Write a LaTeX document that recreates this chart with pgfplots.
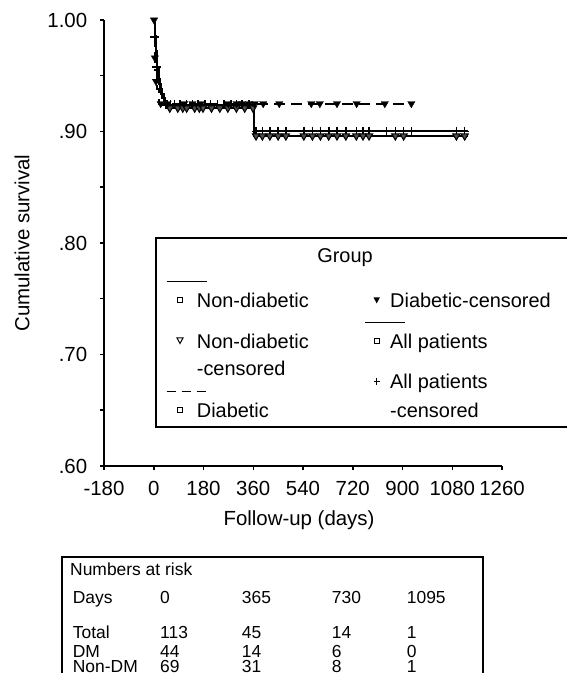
\documentclass[border=0pt]{standalone}
\usepackage{pgfplots}
\pgfplotsset{compat=1.18}
\usepackage{fontspec}
\setmainfont{Liberation Sans}

\begin{document}
\fontsize{20}{24}\selectfont
\begin{tikzpicture}[x=1bp,y=1bp]
\useasboundingbox (0,0) rectangle (567,673);
\begin{axis}[
    at={(104bp,207bp)}, anchor=south west,
    scale only axis, width=398bp, height=446bp,
    xmin=-180, xmax=1260, ymin=0.6, ymax=1.0,
    axis x line*=bottom, axis y line*=left,
    axis line style={line width=1.5bp},
    xtick={-180,0,...,1260},
    ytick={0.6,0.7,0.8,0.9,1.0},
    yticklabels={.60,.70,.80,.90,1.00},
    minor ytick={0.65,0.75,0.85,0.95},
    tick align=outside,
    major tick length=4bp, minor tick length=4bp,
    tick style={black, line width=1.5bp},
    /pgf/number format/assume math mode=true,
    /pgf/number format/1000 sep={},
    ticklabel style={font=\fontsize{20.5}{24}\selectfont},
    xticklabel style={yshift=-4bp},
    yticklabel style={xshift=-6bp},
    xlabel={Follow-up (days)},
    ylabel={Cumulative survival},
    label style={font=\fontsize{20.5}{24}\selectfont},
    xlabel style={at={(axis description cs:0.49,-0.121)}, anchor=center},
    ylabel style={at={(axis description cs:-0.206,0.5)}, anchor=center},
    clip=false,
]
% all patients
\addplot[const plot, black, line width=2bp] coordinates {
    (0,1.000) (3,0.982) (7,0.965) (11,0.956) (16,0.947) (22,0.938)
    (30,0.930) (42,0.924) (362,0.900) (1136,0.900)
};
% non-diabetic
\addplot[const plot, black, line width=2bp] coordinates {
    (0,1.000) (4,0.986) (8,0.972) (13,0.957) (19,0.943) (27,0.934)
    (37,0.927) (48,0.921) (362,0.896) (1136,0.896)
};
% diabetic
\addplot[const plot, black, line width=2bp, dash pattern=on 11bp off 6bp] coordinates {
    (0,1.000) (3,0.977) (6,0.955) (12,0.938) (20,0.925) (932,0.925)
};
% all patients - censored
\addplot[only marks, mark=+, mark size=4.5bp, mark options={line width=1.6bp}] coordinates {
    (2,0.985) (10,0.958)
    (45,0.924) (60,0.924) (75,0.924) (95,0.924) (118,0.924) (140,0.924)
    (160,0.924) (185,0.924) (205,0.924) (230,0.924) (255,0.924) (280,0.924)
    (300,0.924) (320,0.924) (345,0.924)
    (370,0.900) (393,0.900) (420,0.900) (450,0.900) (478,0.900) (543,0.900)
    (574,0.900) (603,0.900) (633,0.900) (663,0.900) (695,0.900) (733,0.900)
    (757,0.900) (779,0.900) (842,0.900) (874,0.900) (904,0.900) (932,0.900)
    (1095,0.900) (1125,0.900)
};
% non-diabetic - censored
\addplot[only marks, mark=triangle*, mark size=4.2bp,
    mark options={rotate=180, fill=black!70, draw=black, line width=1bp}] coordinates {
    (58,0.921) (87,0.921) (105,0.921) (119,0.921) (148,0.921) (165,0.921)
    (178,0.921) (209,0.921) (239,0.921) (268,0.921) (299,0.921) (329,0.921)
    (359,0.921)
    (370,0.896) (393,0.896) (420,0.896) (450,0.896) (478,0.896) (543,0.896)
    (574,0.896) (603,0.896) (633,0.896) (663,0.896) (695,0.896) (733,0.896)
    (757,0.896) (779,0.896) (874,0.896) (904,0.896) (1095,0.896) (1125,0.896)
};
% diabetic - censored
\addplot[only marks, mark=triangle*, mark size=4.2bp,
    mark options={rotate=180, fill=black, draw=black}] coordinates {
    (1,1.000) (4,0.966) (8,0.945) (25,0.925) (50,0.925) (110,0.925)
    (140,0.925) (170,0.925) (270,0.925) (300,0.925) (320,0.925)
    (345,0.925) (365,0.925) (396,0.925) (454,0.925) (570,0.925)
    (601,0.925) (663,0.925) (734,0.925) (836,0.925) (932,0.925)
};
\end{axis}

% legend box
\draw[line width=1.2bp] (156,246) rectangle (600,435);
\node[anchor=base] at (345,410.8) {Group};
\draw[line width=1.5bp] (166.7,391.3) -- (206.7,391.3);
\draw[line width=1.5bp, dash pattern=on 9bp off 6bp] (166.7,281.3) -- (206.7,281.3);
\draw[line width=1.5bp] (365,350.3) -- (405,350.3);
% legend symbols
\draw[line width=1bp] (177.5,370) rectangle (182.5,375);
\draw[line width=1bp] (177.5,260.5) rectangle (182.5,265.5);
\draw[line width=1bp] (374.2,329.5) rectangle (379.2,334.5);
\draw[line width=1bp] (177,335) -- (183,335) -- (180,329.5) -- cycle;
\fill (373.5,375.5) -- (379.9,375.5) -- (376.7,369.6) -- cycle;
\draw[line width=1.2bp] (373.5,291.3) -- (379.9,291.3) (376.7,288.1) -- (376.7,294.5);
% legend texts
\node[anchor=base west, inner sep=0] at (196.7,365.1) {Non-diabetic};
\node[anchor=base west, inner sep=0] at (196.7,324.8) {Non-diabetic};
\node[anchor=base west, inner sep=0] at (196.7,297.5) {-censored};
\node[anchor=base west, inner sep=0] at (196.7,255.8) {Diabetic};
\node[anchor=base west, inner sep=0] at (390,365.1) {Diabetic-censored};
\node[anchor=base west, inner sep=0] at (390,324.8) {All patients};
\node[anchor=base west, inner sep=0] at (390,284.1) {All patients};
\node[anchor=base west, inner sep=0] at (390,255.8) {-censored};

% numbers at risk table
\draw[line width=1.2bp] (62,-10) -- (62,116) -- (483,116) -- (483,-10);
\begin{scope}[every node/.style={anchor=base west, inner sep=0, font=\fontsize{17.5}{20}\selectfont}]
\node at (70,97.5) {Numbers at risk};
\node at (72.7,69.8) {Days};
\node at (160,69.8) {0};
\node at (241.7,69.8) {365};
\node at (331.7,69.8) {730};
\node at (406.7,69.8) {1095};
\node at (72.7,34) {Total};
\node at (160,34) {113};
\node at (241.7,34) {45};
\node at (331.7,34) {14};
\node at (406.7,34) {1};
\node at (72.7,15.8) {DM};
\node at (160,15.8) {44};
\node at (241.7,15.8) {14};
\node at (331.7,15.8) {6};
\node at (406.7,15.8) {0};
\node at (72.7,0.3) {Non-DM};
\node at (160,0.3) {69};
\node at (241.7,0.3) {31};
\node at (331.7,0.3) {8};
\node at (406.7,0.3) {1};
\end{scope}
\end{tikzpicture}
\end{document}
